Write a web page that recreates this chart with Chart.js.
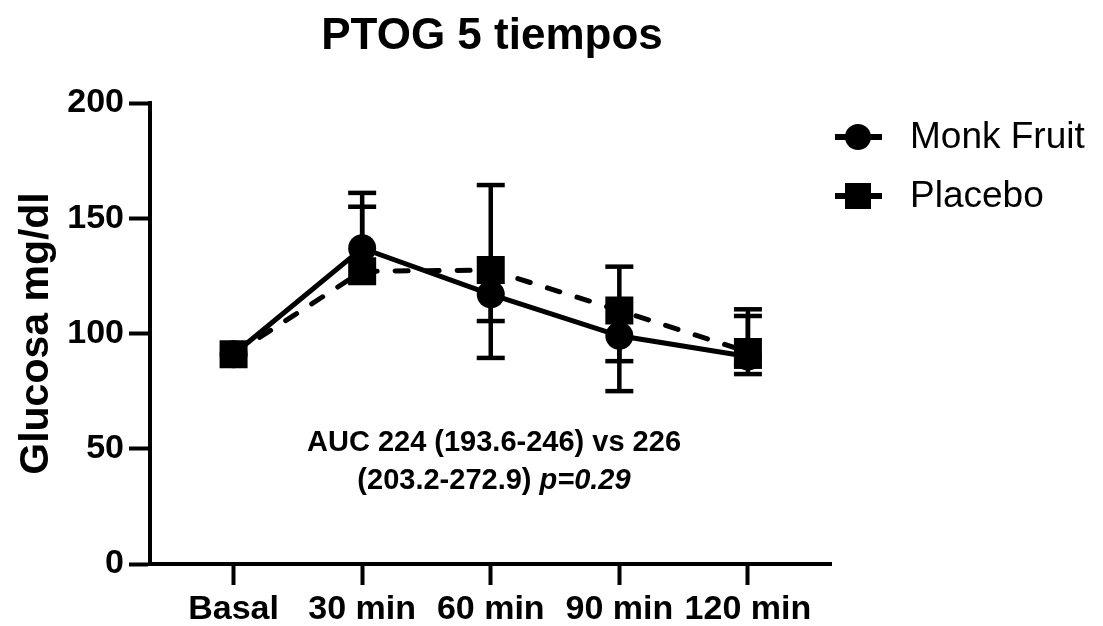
<!DOCTYPE html>
<html>
<head>
<meta charset="utf-8">
<script src="https://cdn.jsdelivr.net/npm/chart.js@4/dist/chart.umd.min.js"></script>
<style>
  html, body { margin: 0; padding: 0; background: #fff; }
  #wrap { width: 1103px; height: 626px; position: relative; }
</style>
</head>
<body>
<div id="wrap"><canvas id="c" width="1103" height="626"></canvas></div>
<script>
const categories = ["Basal", "30 min", "60 min", "90 min", "120 min"];
const yTicks = [0, 50, 100, 150, 200];
const monkFruit = [91, 137, 117, 99, 90];
const placebo = [91, 127, 127.5, 110, 92];
// error bar ends (median with interquartile range); null = hidden inside marker
const monkUpper = [null, 155, null, null, 107.6];
const monkLower = [null, null, 105.4, 75, 85.6];
const placeboUpper = [null, 161, 164.4, 129, 110.5];
const placeboLower = [null, null, 89.4, 88, 82.4];
const titleText = "PTOG 5 tiempos";
const yTitle = "Glucosa mg/dl";
const seriesNames = ["Monk Fruit", "Placebo"];
const noteLine1 = "AUC 224 (193.6-246) vs 226";
const noteLine2a = "(203.2-272.9) ";
const noteLine2b = "p=0.29";

const FONT = "'Liberation Sans', Arial, Helvetica, sans-serif";

const toPts = arr => arr.map((v, i) => ({ x: i, y: v }));

const errorBars = [
  { upper: monkUpper, lower: monkLower, mean: monkFruit },
  { upper: placeboUpper, lower: placeboLower, mean: placebo }
];

const extrasPlugin = {
  id: 'extras',
  beforeDatasetsDraw(chart) {
    const ctx = chart.ctx;
    const xs = chart.scales.x, ys = chart.scales.y;
    ctx.save();
    ctx.strokeStyle = '#000';
    ctx.lineWidth = 4.5;
    ctx.lineCap = 'butt';
    errorBars.forEach(eb => {
      eb.mean.forEach((m, i) => {
        const px = xs.getPixelForValue(i);
        const pm = ys.getPixelForValue(m);
        [eb.upper[i], eb.lower[i]].forEach(v => {
          if (v === null || v === undefined) return;
          const pv = ys.getPixelForValue(v);
          ctx.beginPath();
          ctx.moveTo(px, pm);
          ctx.lineTo(px, pv);
          ctx.stroke();
          ctx.beginPath();
          ctx.moveTo(px - 14, pv);
          ctx.lineTo(px + 14, pv);
          ctx.stroke();
        });
      });
    });
    ctx.restore();
  },
  afterDraw(chart) {
    const ctx = chart.ctx;
    ctx.save();
    ctx.fillStyle = '#000';
    // title
    ctx.font = "bold 44px " + FONT;
    ctx.textAlign = 'center';
    ctx.textBaseline = 'alphabetic';
    ctx.fillText(titleText, 492, 49);
    // annotation
    ctx.font = "bold 29px " + FONT;
    ctx.fillText(noteLine1, 494, 451);
    const w1 = ctx.measureText(noteLine2a).width;
    ctx.font = "italic bold 29px " + FONT;
    const w2 = ctx.measureText(noteLine2b).width;
    const start = 494 - (w1 + w2) / 2;
    ctx.textAlign = 'left';
    ctx.font = "bold 29px " + FONT;
    ctx.fillText(noteLine2a, start, 489);
    ctx.font = "italic bold 29px " + FONT;
    ctx.fillText(noteLine2b, start + w1, 489);
    // legend
    const items = [
      { y: 137, style: 'circle' },
      { y: 196, style: 'rect' }
    ];
    items.forEach((it, k) => {
      ctx.strokeStyle = '#000';
      ctx.lineWidth = 6;
      ctx.beginPath();
      ctx.moveTo(835, it.y);
      ctx.lineTo(882, it.y);
      ctx.stroke();
      ctx.beginPath();
      if (it.style === 'circle') {
        ctx.arc(858, it.y, 13, 0, Math.PI * 2);
      } else {
        ctx.rect(858 - 13, it.y - 13, 26, 26);
      }
      ctx.fill();
      ctx.font = "37px " + FONT;
      ctx.textAlign = 'left';
      ctx.textBaseline = 'middle';
      ctx.fillText(seriesNames[k], 910, it.y + 1);
    });
    ctx.restore();
  }
};

new Chart(document.getElementById('c'), {
  type: 'line',
  data: {
    datasets: [
      {
        label: seriesNames[0],
        data: toPts(monkFruit),
        borderColor: '#000',
        backgroundColor: '#000',
        borderWidth: 5,
        pointStyle: 'circle',
        pointRadius: 14,
        pointBorderWidth: 0,
        tension: 0,
        order: 1
      },
      {
        label: seriesNames[1],
        data: toPts(placebo),
        borderColor: '#000',
        backgroundColor: '#000',
        borderWidth: 5,
        borderDash: [13, 18],
        borderCapStyle: 'round',
        pointStyle: 'rect',
        pointRadius: 19.8,
        pointBorderWidth: 0,
        tension: 0,
        order: 2
      }
    ]
  },
  options: {
    responsive: false,
    animation: false,
    layout: { padding: { left: 0, top: 103, right: 271.5, bottom: 0 } },
    plugins: {
      legend: { display: false },
      title: { display: false },
      tooltip: { enabled: false }
    },
    scales: {
      x: {
        type: 'linear',
        min: -0.65,
        max: 4.65,
        afterBuildTicks: s => { s.ticks = categories.map((c, i) => ({ value: i })); },
        afterFit: s => { s.height = 62; },
        ticks: {
          callback: v => categories[v],
          color: '#000',
          font: { family: FONT, size: 34, weight: 'bold' },
          padding: 4,
          maxRotation: 0,
          autoSkip: false
        },
        grid: { display: true, drawOnChartArea: false, drawTicks: true, tickLength: 21, tickWidth: 4, tickColor: '#000' },
        border: { display: true, width: 4, color: '#000' }
      },
      y: {
        type: 'linear',
        min: 0,
        max: 200,
        afterBuildTicks: s => { s.ticks = yTicks.map(v => ({ value: v })); },
        afterFit: s => { s.width = 150; },
        ticks: {
          color: '#000',
          font: { family: FONT, size: 34, weight: 'bold' },
          padding: 5
        },
        title: {
          display: true,
          text: yTitle,
          color: '#000',
          font: { family: FONT, size: 41, weight: 'bold' },
          padding: { top: 12, bottom: 0 }
        },
        grid: { display: true, drawOnChartArea: false, drawTicks: true, tickLength: 21, tickWidth: 4, tickColor: '#000' },
        border: { display: true, width: 4, color: '#000' }
      }
    }
  },
  plugins: [extrasPlugin]
});
</script>
</body>
</html>
